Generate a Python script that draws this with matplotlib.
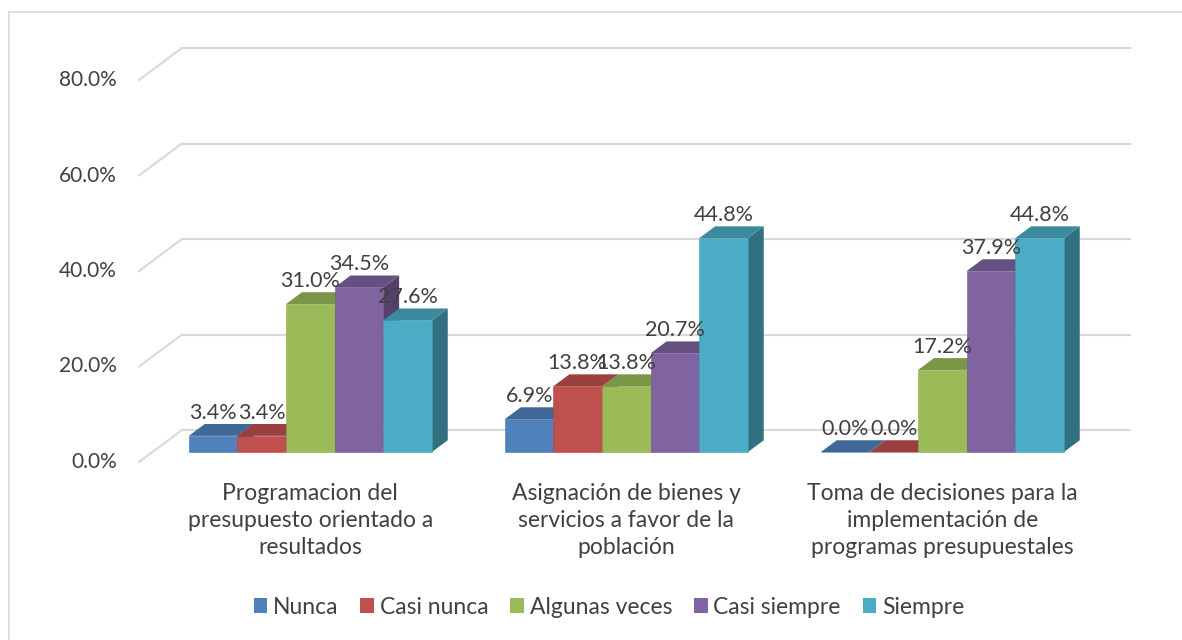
# 3D clustered column chart (Excel style) - survey answers by dimension

import numpy as np
import matplotlib.pyplot as plt
from matplotlib.patches import Polygon, Patch
from matplotlib.lines import Line2D
from matplotlib.colors import to_rgb

#---------------------- DATA ------------------------#

categories = ["Programacion del\npresupuesto orientado a\nresultados",
              "Asignación de bienes y\nservicios a favor de la\npoblación",
              "Toma de decisiones para la\nimplementación de\nprogramas presupuestales"]
series_names = ["Nunca", "Casi nunca", "Algunas veces", "Casi siempre", "Siempre"]
nunca = [3.4, 6.9, 0.0]
casi_nunca = [3.4, 13.8, 0.0]
algunas_veces = [31.0, 13.8, 17.2]
casi_siempre = [34.5, 20.7, 37.9]
siempre = [27.6, 44.8, 44.8]
y_ticks = [0, 20, 40, 60, 80]

series = [nunca, casi_nunca, algunas_veces, casi_siempre, siempre]
colors = ["#4F81BD", "#C0504D", "#9BBB59", "#8064A2", "#4BACC6"]

#---------------------- STYLE ------------------------#

plt.rcParams['font.family'] = ['Lato', 'DejaVu Sans']
txt_col = "#404040"
grid_col = "#D9D9D9"
fs_num = 15.5
fs_txt = 16.5

# oblique depth of the whole floor, in data units
DX = 43 / 316.0
DY = 6.7
f0, f1 = 0.31, 0.68      # bar front / back depth fraction
w = 0.1538               # bar width in category units

def shade(c, k):
    r, g, b = to_rgb(c)
    return (r * k, g * k, b * k)

#---------------------- FIGURE ------------------------#

fig = plt.figure(figsize=(11.82, 6.4), dpi=100)
ax = fig.add_axes([139 / 1182, 178 / 640, (1087 - 139) / 1182, 382 / 640])
ax.set_xlim(0, 3)
ax.set_ylim(0, 80)
ax.axis("off")

# chart border (top and left only visible)
fig.add_artist(Line2D([8.5 / 1182, 8.5 / 1182], [0, 1 - 12 / 640], color=grid_col, lw=1.2))
fig.add_artist(Line2D([8.5 / 1182, 1], [1 - 12 / 640, 1 - 12 / 640], color=grid_col, lw=1.2))

# back wall gridlines + floor diagonals
for v in y_ticks:
    ax.plot([DX, 3 + DX], [v + DY, v + DY], color=grid_col, lw=1.5, zorder=1, clip_on=False)
    ax.plot([0, DX], [v, v + DY], color=grid_col, lw=1.5, zorder=1, clip_on=False)
    ax.annotate("%.1f%%" % v, (0, v), xytext=(-16, 0), textcoords="offset points",
                ha="right", va="center", fontsize=15, color=txt_col)

# bars
x = np.arange(len(categories)) + 0.5
for i, (vals, col) in enumerate(zip(series, colors)):
    xc = x + (i - 2) * w
    z = 3 + i
    ax.bar(xc + f0 * DX, vals, width=w, bottom=f0 * DY, color=col, zorder=z,
           edgecolor=shade(col, 0.9), linewidth=0.4, clip_on=False)
    for xx, v in zip(xc, vals):
        xl, xr = xx - w / 2, xx + w / 2
        top = [(xl + f0 * DX, v + f0 * DY), (xr + f0 * DX, v + f0 * DY),
               (xr + f1 * DX, v + f1 * DY), (xl + f1 * DX, v + f1 * DY)]
        side = [(xr + f0 * DX, f0 * DY), (xr + f1 * DX, f1 * DY),
                (xr + f1 * DX, v + f1 * DY), (xr + f0 * DX, v + f0 * DY)]
        ax.add_patch(Polygon(side, closed=True, facecolor=shade(col, 0.65), edgecolor="none",
                             zorder=z - 0.1, clip_on=False))
        ax.add_patch(Polygon(top, closed=True, facecolor=shade(col, 0.8), edgecolor="none",
                             zorder=z - 0.05, clip_on=False))
        ax.annotate("%.1f%%" % v, (xx + f0 * DX, v + f0 * DY), xytext=(0, 16.5),
                    textcoords="offset points", ha="center", va="center",
                    fontsize=fs_num, color=txt_col, zorder=20)

# category labels
for xx, lab in zip(x, categories):
    ax.annotate(lab, (xx + f0 * DX, f0 * DY), xytext=(0, -49.5), textcoords="offset points",
                ha="center", va="center", fontsize=fs_txt, color=txt_col, linespacing=1.35)

# legend
handles = [Patch(facecolor=c, edgecolor="none") for c in colors]
fig.legend(handles, series_names, loc="center", bbox_to_anchor=(609 / 1182, 1 - 607 / 640),
           ncol=5, frameon=False, fontsize=fs_txt, handlelength=0.6, handleheight=0.6,
           handletextpad=0.25, columnspacing=0.95, labelcolor=txt_col)

plt.savefig("out.png", dpi=100)
